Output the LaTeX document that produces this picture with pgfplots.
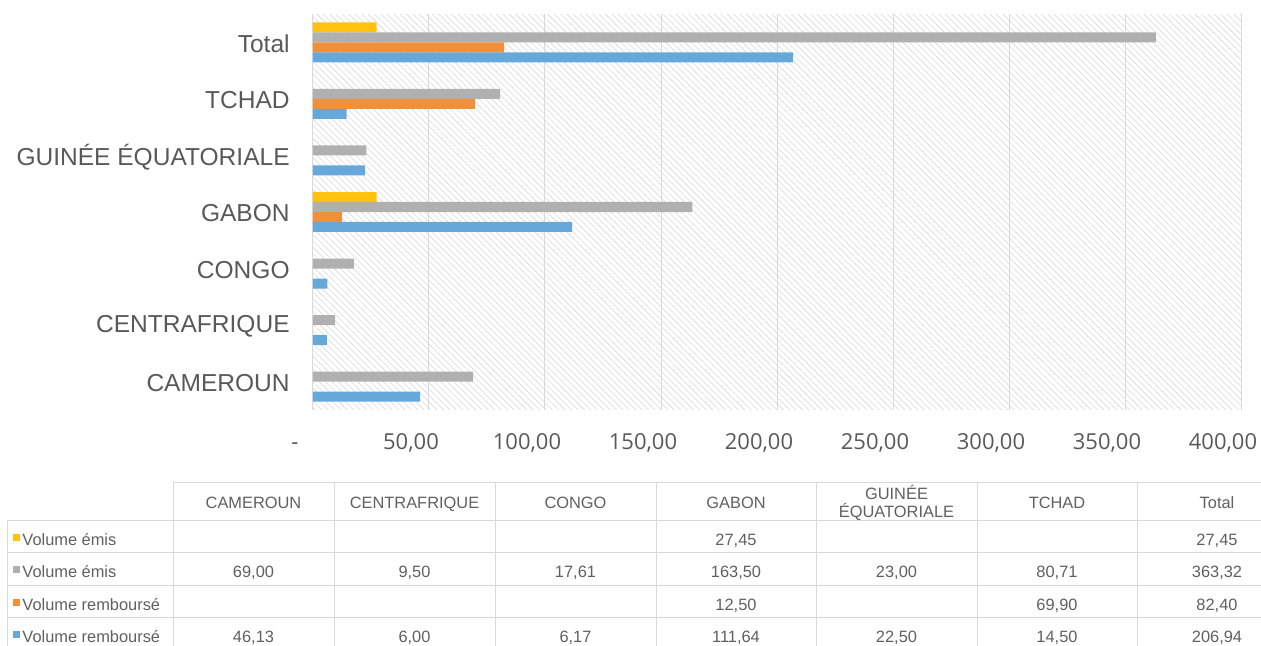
\documentclass[border=0pt]{standalone}
\usepackage{pgfplots}
\pgfplotsset{compat=1.18}
\usepackage{fontspec}
\setmainfont{Liberation Sans}
\newfontfamily\tickfont{Open Sans}
\usetikzlibrary{patterns.meta}
\definecolor{cyellow}{HTML}{FFC20E}
\definecolor{cgray}{HTML}{B0B0B0}
\definecolor{corange}{HTML}{F0903A}
\definecolor{cblue}{HTML}{66A8DA}
\definecolor{labelgray}{HTML}{595959}
\definecolor{tabtext}{HTML}{606060}
\definecolor{gridgray}{HTML}{D9D9D9}
\definecolor{hatchgray}{HTML}{D9D9D9}
\begin{document}
\begin{tikzpicture}
\path[use as bounding box] (0,0) rectangle (945.75pt,484.5pt);
\begin{axis}[
  at={(234.75pt,177pt)}, anchor=south west,
  scale only axis, width=696pt, height=297pt,
  xmin=0, xmax=400, ymin=-0.5, ymax=6.5,
  xbar, bar width=0.1768,
  ytick={0,1,2,3,4,5,6},
  yticklabels={CAMEROUN,CENTRAFRIQUE,CONGO,GABON,GUINÉE ÉQUATORIALE,TCHAD,Total},
  xtick={0,50,100,150,200,250,300,350,400},
  xticklabels={-,{50,00},{100,00},{150,00},{200,00},{250,00},{300,00},{350,00},{400,00}},
  axis line style={draw=none},
  major tick length=0pt,
  xmajorgrids,
  grid style={draw=gridgray, line width=0.75pt},
  axis background/.style={pattern={Lines[angle=-45,distance=3.4pt,line width=0.45pt]}, pattern color=hatchgray},
  xticklabel style={font=\tickfont\fontsize{16.5}{18}\selectfont, text=labelgray, xshift=-13.5pt, yshift=-14.5pt, text height=11.8pt, text depth=0pt},
  yticklabel style={font=\fontsize{18.4}{20}\selectfont, text=labelgray, xshift=-14pt, yshift=-1pt},
  clip=false,
]
\addplot[draw=none, fill=cyellow, bar shift=0.265] coordinates {(27.45,3) (27.45,6)};
\addplot[draw=none, fill=cgray, bar shift=0.0884] coordinates {(69,0) (9.5,1) (17.61,2) (163.5,3) (23,4) (80.71,5) (363.32,6)};
\addplot[draw=none, fill=corange, bar shift=-0.0884] coordinates {(12.5,3) (69.9,5) (82.4,6)};
\addplot[draw=none, fill=cblue, bar shift=-0.265] coordinates {(46.13,0) (6,1) (6.17,2) (111.64,3) (22.5,4) (14.5,5) (206.94,6)};
\end{axis}
\begin{scope}[x=0.75pt,y=-0.75pt,yshift=484.5pt]
  \begin{scope}[draw=gridgray, line width=0.75pt]
    \draw (173,483)--(1261,483);
    \foreach \yy in {521,553,586,618} {\draw (7,\yy)--(1261,\yy);}
    \draw (7,521)--(7,646);
    \foreach \xx in {173,334,495,656,816,977,1137} {\draw (\xx,483)--(\xx,646);}
  \end{scope}
  \begin{scope}[every node/.style={font=\fontsize{12.3}{14}\selectfont, text=tabtext, inner sep=0pt},
                c/.style={text height=8.8pt, text depth=0pt}]
    \node[c] at (253.5,503) {CAMEROUN};
    \node[c] at (414.5,503) {CENTRAFRIQUE};
    \node[c] at (575.5,503) {CONGO};
    \node[c] at (736,503) {GABON};
    \node[align=center, font=\fontsize{12.3}{13.5}\selectfont] at (896.5,503) {GUINÉE\\ÉQUATORIALE};
    \node[c] at (1057,503) {TCHAD};
    \node[c] at (1217,503) {Total};
    % row headers
    \node[c, anchor=west] at (13,540) {\textcolor{cyellow}{\rule[3.5pt]{5.4pt}{5.4pt}}\hspace{1.5pt}Volume émis};
    \node[c, anchor=west] at (13,572) {\textcolor{cgray}{\rule[3.5pt]{5.4pt}{5.4pt}}\hspace{1.5pt}Volume émis};
    \node[c, anchor=west] at (13,605) {\textcolor{corange}{\rule[3.5pt]{5.4pt}{5.4pt}}\hspace{1.5pt}Volume remboursé};
    \node[c, anchor=west] at (13,637) {\textcolor{cblue}{\rule[3.5pt]{5.4pt}{5.4pt}}\hspace{1.5pt}Volume remboursé};
    % row 1
    \node[c] at (736,540) {27,45};
    \node[c] at (1217,540) {27,45};
    % row 2
    \node[c] at (253.5,572) {69,00};
    \node[c] at (414.5,572) {9,50};
    \node[c] at (575.5,572) {17,61};
    \node[c] at (736,572) {163,50};
    \node[c] at (896.5,572) {23,00};
    \node[c] at (1057,572) {80,71};
    \node[c] at (1217,572) {363,32};
    % row 3
    \node[c] at (736,605) {12,50};
    \node[c] at (1057,605) {69,90};
    \node[c] at (1217,605) {82,40};
    % row 4
    \node[c] at (253.5,637) {46,13};
    \node[c] at (414.5,637) {6,00};
    \node[c] at (575.5,637) {6,17};
    \node[c] at (736,637) {111,64};
    \node[c] at (896.5,637) {22,50};
    \node[c] at (1057,637) {14,50};
    \node[c] at (1217,637) {206,94};
  \end{scope}
\end{scope}
\end{tikzpicture}
\end{document}
